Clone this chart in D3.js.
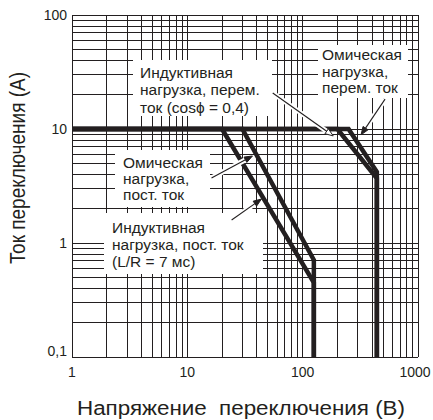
<!DOCTYPE html>
<html>
<head>
<meta charset="utf-8">
<script src="https://cdn.jsdelivr.net/npm/d3@7"></script>
<style>
  body { margin: 0; background: #fff; }
  text { font-family: "Liberation Sans", Arial, sans-serif; fill: #231f20; }
</style>
</head>
<body>
<div id="chart"></div>
<script>
// оси
const xTicks = [1, 10, 100, 1000];
const xTickLabels = ["1", "10", "100", "1000"];
const yTicks = [0.1, 1, 10, 100];
const yTickLabels = ["0,1", "1", "10", "100"];

// кривые: напряжение (В) / ток (А)
const dcOhmV = [1, 30, 125, 125];
const dcOhmA = [10, 10, 0.71, 0.1];
const dcIndV = [1, 20, 125, 125];
const dcIndA = [10, 10, 0.45, 0.1];
const acOhmV = [1, 250, 440, 440];
const acOhmA = [10, 10, 4.2, 0.1];
const acIndV = [1, 200, 440, 440];
const acIndA = [10, 10, 3.7, 0.1];

// подписи: текст, стрелка (В, А)
const labelLines = [
  ["Индуктивная", "нагрузка, перем.", "ток (cosϕ = 0,4)"],
  ["Омическая", "нагрузка,", "перем. ток"],
  ["Омическая", "нагрузка,", "пост. ток"],
  ["Индуктивная", "нагрузка, пост. ток", "(L/R = 7 мс)"]
];
const arrowFrom = [[55, 20.7], [518, 18.3], [16.2, 3.72], [24.2, 1.59]];
const arrowTo = [[184, 8.7], [321, 8.9], [36.7, 5.8], [43.9, 2.43]];

const W = 433, H = 420;
const svg = d3.select("#chart").append("svg")
  .attr("width", W).attr("height", H);

const x = d3.scaleLog().domain([1, 1000]).range([72, 418]);
const y = d3.scaleLog().domain([0.1, 100]).range([357, 15]);

// сетка
const grid = svg.append("g")
  .attr("stroke", "#231f20").attr("stroke-width", 1)
  .attr("shape-rendering", "crispEdges");
grid.selectAll(".vx").data(x.ticks()).enter().append("line")
  .attr("x1", d => x(d)).attr("x2", d => x(d))
  .attr("y1", y(0.1)).attr("y2", y(100));
grid.selectAll(".hy").data(y.ticks()).enter().append("line")
  .attr("y1", d => y(d)).attr("y2", d => y(d))
  .attr("x1", x(1)).attr("x2", x(1000));

// рамки подписей
const boxes = [
  { x: 133, y: 60, w: 139, h: 56, tx: 140, ty: 77.5, lh: 17.5 },
  { x: 318, y: 45, w: 90, h: 53, tx: 322, ty: 60, lh: 16.5 },
  { x: 115, y: 150, w: 95, h: 57, tx: 123, ty: 168, lh: 16 },
  { x: 104, y: 213, w: 159, h: 61, tx: 112, ty: 233, lh: 17 }
];
svg.append("g").selectAll("rect").data(boxes).enter().append("rect")
  .attr("x", d => d.x).attr("y", d => d.y)
  .attr("width", d => d.w).attr("height", d => d.h)
  .attr("fill", "#fff");

// кривые
const series = [[dcOhmV, dcOhmA], [dcIndV, dcIndA], [acOhmV, acOhmA], [acIndV, acIndA]];
const line = d3.line().x(d => x(d[0])).y(d => y(d[1]));
svg.append("g").selectAll("path").data(series).enter().append("path")
  .attr("d", s => line(s[0].map((v, i) => [v, s[1][i]])))
  .attr("fill", "none").attr("stroke", "#231f20")
  .attr("stroke-width", 4.5).attr("stroke-linejoin", "miter");

// стрелки
const arrows = svg.append("g");
arrowFrom.forEach((f, i) => {
  const x1 = x(f[0]), y1 = y(f[1]);
  const x2 = x(arrowTo[i][0]), y2 = y(arrowTo[i][1]);
  const a = Math.atan2(y2 - y1, x2 - x1);
  const len = 8, half = 3;
  const bx = x2 - len * Math.cos(a), by = y2 - len * Math.sin(a);
  arrows.append("line")
    .attr("x1", x1).attr("y1", y1).attr("x2", bx).attr("y2", by)
    .attr("stroke", "#fff").attr("stroke-width", 5);
  arrows.append("line")
    .attr("x1", x1).attr("y1", y1).attr("x2", bx).attr("y2", by)
    .attr("stroke", "#231f20").attr("stroke-width", 1.1);
  const pts = [
    [x2, y2],
    [bx + half * Math.sin(a), by - half * Math.cos(a)],
    [bx - half * Math.sin(a), by + half * Math.cos(a)]
  ];
  arrows.append("polygon")
    .attr("points", pts.map(p => p.join(",")).join(" "))
    .attr("fill", i === 0 ? "#fff" : "#231f20")
    .attr("stroke", "#231f20").attr("stroke-width", 1);
});

// тексты подписей
boxes.forEach((b, i) => {
  const t = svg.append("text").attr("font-size", 15.5);
  labelLines[i].forEach((s, j) => {
    t.append("tspan").attr("x", b.tx).attr("y", b.ty + j * b.lh).text(s);
  });
});

// подписи делений
svg.append("g").selectAll("text").data(yTicks).enter().append("text")
  .attr("x", 67).attr("y", (d, i) => y(d) + (i === 0 ? -6 : 0))
  .attr("dy", "0.35em").attr("text-anchor", "end").attr("font-size", 14)
  .text((d, i) => yTickLabels[i]);
svg.append("g").selectAll("text").data(xTicks).enter().append("text")
  .attr("x", (d, i) => x(d) + (i === 3 ? -3 : 0)).attr("y", 372)
  .attr("dy", "0.35em").attr("text-anchor", "middle").attr("font-size", 14)
  .text((d, i) => xTickLabels[i]);

// названия осей
svg.append("text")
  .attr("transform", "translate(18,168) scale(1.12,1) rotate(-90)")
  .attr("dy", "0.35em").attr("text-anchor", "middle").attr("font-size", 19)
  .text("Ток переключения (A)");
svg.append("text")
  .attr("x", 77).attr("y", 408).attr("dy", "0.35em")
  .attr("font-size", 19.5)
  .attr("textLength", 328).attr("lengthAdjust", "spacingAndGlyphs")
  .style("white-space", "pre")
  .text("Напряжение  переключения (B)");
</script>
</body>
</html>
